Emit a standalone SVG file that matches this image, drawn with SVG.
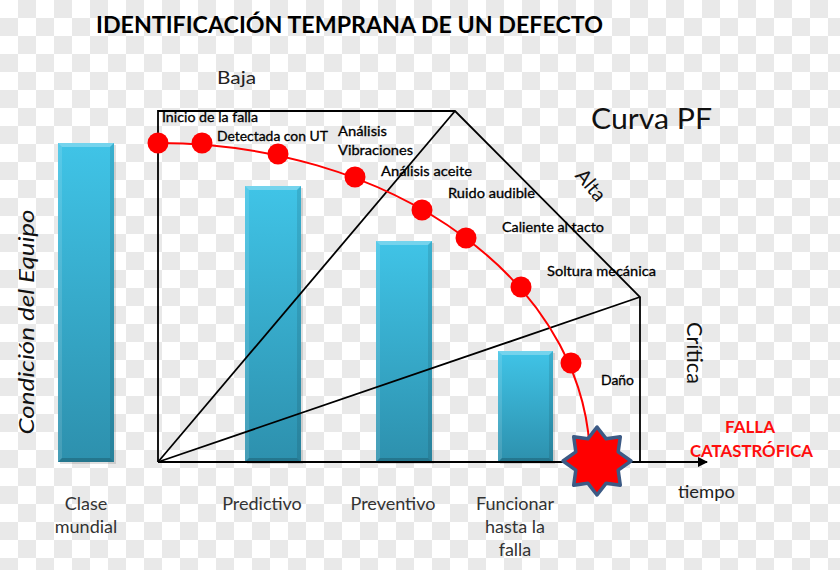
<svg xmlns="http://www.w3.org/2000/svg" width="840" height="570" viewBox="0 0 840 570">
<defs>
  <pattern id="checker" x="0" y="0" width="36" height="36" patternUnits="userSpaceOnUse">
    <rect width="36" height="36" fill="#ffffff"/>
    <rect x="18" y="0" width="18" height="18" fill="#e9e9e9"/>
    <rect x="0" y="18" width="18" height="18" fill="#e9e9e9"/>
  </pattern>
  <linearGradient id="barG" x1="0" y1="0" x2="0" y2="1">
    <stop offset="0" stop-color="#40c4e7"/>
    <stop offset="1" stop-color="#2d90ad"/>
  </linearGradient>
  <marker id="arrow" viewBox="0 0 10 10" refX="9" refY="5" markerWidth="10" markerHeight="10" markerUnits="userSpaceOnUse" orient="auto">
    <path d="M0,0 L10,5 L0,10 Z" fill="#000"/>
  </marker>
  <style>
    .t { font-family: Lato, "Liberation Sans", sans-serif; }
    .lbl { font-family: Lato, "Liberation Sans", sans-serif; font-size: 13.5px; fill: #000; stroke: #000; stroke-width: 0.3; }
    .bot { font-family: Lato, "Liberation Sans", sans-serif; font-size: 18px; fill: #333; text-anchor: middle; }
    .ln { stroke: #000; stroke-width: 1.8; fill: none; }
    .dot { fill: #ff0000; }
    .bar { fill: url(#barG); }
    .shd { fill: #000; opacity: 0.12; }
    .hl { fill: #fff; opacity: 0.28; }
    .hl2 { fill: #fff; opacity: 0.12; }
    .dk { fill: #000; opacity: 0.1; }
    .dk2 { fill: #000; opacity: 0.18; }
  </style>
</defs>

<rect width="840" height="570" fill="url(#checker)"/>

<g id="title">
  <text class="t" x="96" y="33" font-size="23" font-weight="bold" fill="#000" textLength="507" lengthAdjust="spacingAndGlyphs">IDENTIFICACIÓN TEMPRANA DE UN DEFECTO</text>
</g>

<g id="bar-clase-mundial">
  <rect class="shd" x="60" y="145" width="56" height="319"/>
  <rect class="bar" x="58" y="143" width="56" height="319"/>
  <polygon class="hl" points="58,143 114,143 110,147 62,147"/>
  <polygon class="hl2" points="58,143 62,147 62,458 58,462"/>
  <polygon class="dk" points="114,143 110,147 110,458 114,462"/>
  <polygon class="dk2" points="58,462 62,458 110,458 114,462"/>
</g>
<g id="bar-predictivo">
  <rect class="shd" x="247" y="188" width="56" height="276"/>
  <rect class="bar" x="245" y="186" width="56" height="276"/>
  <polygon class="hl" points="245,186 301,186 297,190 249,190"/>
  <polygon class="hl2" points="245,186 249,190 249,458 245,462"/>
  <polygon class="dk" points="301,186 297,190 297,458 301,462"/>
  <polygon class="dk2" points="245,462 249,458 297,458 301,462"/>
</g>
<g id="bar-preventivo">
  <rect class="shd" x="378" y="243" width="56" height="221"/>
  <rect class="bar" x="376" y="241" width="56" height="221"/>
  <polygon class="hl" points="376,241 432,241 428,245 380,245"/>
  <polygon class="hl2" points="376,241 380,245 380,458 376,462"/>
  <polygon class="dk" points="432,241 428,245 428,458 432,462"/>
  <polygon class="dk2" points="376,462 380,458 428,458 432,462"/>
</g>
<g id="bar-funcionar">
  <rect class="shd" x="500" y="353" width="55" height="111"/>
  <rect class="bar" x="498" y="351" width="55" height="111"/>
  <polygon class="hl" points="498,351 553,351 549,355 502,355"/>
  <polygon class="hl2" points="498,351 502,355 502,458 498,462"/>
  <polygon class="dk" points="553,351 549,355 549,458 553,462"/>
  <polygon class="dk2" points="498,462 502,458 549,458 553,462"/>
</g>

<g id="connectors">
  <polyline class="ln" points="158,462 158,111 455,111 640,297 640,462"/>
  <line class="ln" x1="158" y1="462" x2="455" y2="111"/>
  <line class="ln" x1="158" y1="462" x2="640" y2="297"/>
  <line class="ln" x1="158" y1="462" x2="707" y2="462" marker-end="url(#arrow)"/>
  <path d="M158,143 A432,319 0 0 1 590,462" fill="none" stroke="#ff0000" stroke-width="2"/>
</g>

<g id="dots">
  <circle class="dot" cx="158" cy="143" r="10.5"/>
  <circle class="dot" cx="202" cy="143" r="10.5"/>
  <circle class="dot" cx="278" cy="154" r="10.5"/>
  <circle class="dot" cx="355" cy="177" r="10.5"/>
  <circle class="dot" cx="422" cy="210" r="10.5"/>
  <circle class="dot" cx="466" cy="238" r="10.5"/>
  <circle class="dot" cx="521" cy="287" r="10.5"/>
  <circle class="dot" cx="571" cy="363" r="10.5"/>
</g>

<g id="falla-star">
  <polygon points="597,427 606.2,438.8 620.3,436.7 618.2,451.8 631,461 618.2,470.2 620.3,485.3 606.2,483.2 597,495 587.8,483.2 573.7,485.3 575.8,470.2 563,461 575.8,451.8 573.7,436.7 587.8,438.8" fill="#ff0000" stroke="#3c5a85" stroke-width="3.5" stroke-linejoin="round"/>
</g>

<g id="curve-labels">
  <text class="lbl" x="162" y="122" textLength="96" lengthAdjust="spacingAndGlyphs">Inicio de la falla</text>
  <text class="lbl" x="217" y="141" textLength="111" lengthAdjust="spacingAndGlyphs">Detectada con UT</text>
  <text class="lbl" x="338" y="136" textLength="49" lengthAdjust="spacingAndGlyphs">Análisis</text>
  <text class="lbl" x="338" y="155" textLength="75" lengthAdjust="spacingAndGlyphs">Vibraciones</text>
  <text class="lbl" x="381" y="176" textLength="91" lengthAdjust="spacingAndGlyphs">Análisis aceite</text>
  <text class="lbl" x="448" y="198" textLength="87" lengthAdjust="spacingAndGlyphs">Ruido audible</text>
  <text class="lbl" x="502" y="232" textLength="102" lengthAdjust="spacingAndGlyphs">Caliente al tacto</text>
  <text class="lbl" x="547" y="276" textLength="109" lengthAdjust="spacingAndGlyphs">Soltura mecánica</text>
  <text class="lbl" x="601" y="385" textLength="33" lengthAdjust="spacingAndGlyphs">Daño</text>
</g>

<g id="zone-labels">
  <text class="t" x="217" y="84" font-size="18" fill="#222" textLength="39" lengthAdjust="spacingAndGlyphs">Baja</text>
  <text class="t" x="591" y="129" font-size="29" fill="#111" textLength="121" lengthAdjust="spacingAndGlyphs">Curva PF</text>
  <text class="t" transform="translate(591,185) rotate(50)" x="0" y="7" font-size="20" fill="#111" text-anchor="middle">Alta</text>
  <text class="t" transform="translate(694,353) rotate(90)" x="0" y="7" font-size="21" fill="#111" text-anchor="middle" textLength="62" lengthAdjust="spacingAndGlyphs">Crítica</text>
  <text class="t" transform="translate(27,322) rotate(-90)" x="0" y="7" font-size="22" font-style="italic" fill="#111" text-anchor="middle" textLength="225" lengthAdjust="spacingAndGlyphs">Condición del Equipo</text>
  <text class="t" x="678" y="498" font-size="17" fill="#222" textLength="57" lengthAdjust="spacingAndGlyphs">tiempo</text>
  <text class="t" x="725" y="433" font-size="17" font-weight="bold" fill="#ff0d0d" textLength="50" lengthAdjust="spacingAndGlyphs">FALLA</text>
  <text class="t" x="690" y="457" font-size="17" font-weight="bold" fill="#ff0d0d" textLength="123" lengthAdjust="spacingAndGlyphs">CATASTRÓFICA</text>
</g>

<g id="category-labels">
  <text class="bot" x="86" y="510">Clase</text>
  <text class="bot" x="86" y="533">mundial</text>
  <text class="bot" x="262" y="510">Predictivo</text>
  <text class="bot" x="393" y="510">Preventivo</text>
  <text class="bot" x="515" y="510">Funcionar</text>
  <text class="bot" x="515" y="533">hasta la</text>
  <text class="bot" x="515" y="556">falla</text>
</g>
</svg>
